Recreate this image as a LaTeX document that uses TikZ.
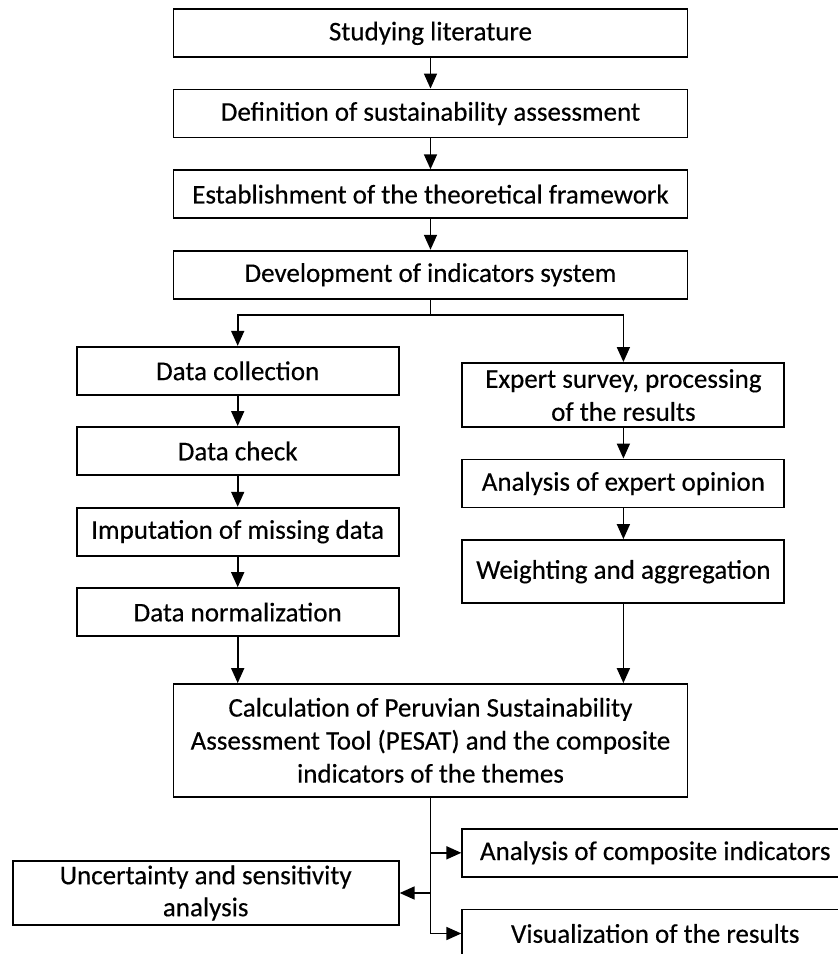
\documentclass[tikz,border=0pt]{standalone}
\usepackage{fontspec}
\setmainfont{Carlito}
\newfontfamily\boxfont[FakeBold=0.35]{Carlito}
\usetikzlibrary{arrows.meta}
\begin{document}
\begin{tikzpicture}[x=1pt, y=-1pt,
  stepbox/.style={draw=black, line width=1.9pt, fill=white, align=center,
    inner sep=2pt, font=\boxfont\fontsize{27}{33}\selectfont,
    minimum height=48pt},
  wide/.style={stepbox, minimum width=514pt},
  col/.style={stepbox, minimum width=322pt},
  side/.style={stepbox, minimum width=386pt},
  link/.style={draw=black, line width=1.7pt},
  arr/.style={link, -{Triangle[length=15pt, width=13pt]}}
]
\clip (0,0) rectangle (838,954);
\fill[white] (0,0) rectangle (838,954);

% main trunk
\node[wide] (lit)   at (430.5, 33.3) {Studying literature};
\node[wide] (def)   at (430.5,113.5) {Definition of sustainability assessment};
\node[wide] (frame) at (430.5,194.2) {Establishment of the theoretical framework};
\node[wide] (ind)   at (430.5,274.7) {Development of indicators system};

% data branch
\node[col] (dcol)  at (237.7,370.8) {Data collection};
\node[col] (dchk)  at (237.7,451.0) {Data check};
\node[col] (dimp)  at (237.7,531.7) {Imputation of missing data};
\node[col] (dnorm) at (237.7,612.1) {Data normalization};

% expert branch
\node[col, minimum height=64.3pt] (exp)  at (623.4,395.1) {Expert survey, processing\\of the results};
\node[col] (opin) at (623.4,483.5) {Analysis of expert opinion};
\node[col, minimum height=63.3pt] (wagg) at (623.4,571.7) {Weighting and aggregation};

% composite calculation
\node[wide, minimum height=112.5pt] (calc) at (430.5,740.3)
  {Calculation of Peruvian Sustainability\\Assessment Tool (PESAT) and the composite\\indicators of the themes};

% outputs
\node[side, minimum height=64.6pt, font=\boxfont\fontsize{27}{32}\selectfont] (unc) at (205.7,893.0) {Uncertainty and sensitivity\\analysis};
\node[side] (comp) at (655.3,852.8) {Analysis of composite indicators};
\node[side] (vis)  at (655.3,933.5) {Visualization of the results};

% trunk connectors
\draw[arr] (lit) -- (def);
\draw[arr] (def) -- (frame);
\draw[arr] (frame) -- (ind);

% split into two branches
\coordinate (split) at (430.5,315);
\draw[link] (ind.south) -- (split);
\draw[arr] (split) -| (dcol.north);
\draw[arr] (split) -| (exp.north);

\draw[arr] (dcol) -- (dchk);
\draw[arr] (dchk) -- (dimp);
\draw[arr] (dimp) -- (dnorm);
\draw[arr] (exp) -- (opin);
\draw[arr] (opin) -- (wagg);

\draw[arr] (dnorm.south) -- (dnorm.south |- calc.north);
\draw[arr] (wagg.south) -- (wagg.south |- calc.north);

% fan-out to the outputs
\coordinate (tail) at (calc.south |- vis.west);
\draw[link] (calc.south) -- (tail);
\draw[arr] (calc.south |- comp.west) -- (comp.west);
\draw[arr] (calc.south |- unc.east) -- (unc.east);
\draw[arr] (tail) -- (vis.west);
\end{tikzpicture}
\end{document}
